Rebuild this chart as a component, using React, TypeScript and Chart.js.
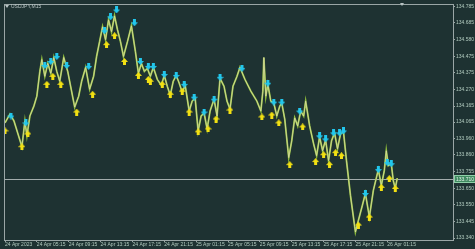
import React, { useEffect, useRef } from "react";
import { Chart, registerables } from "chart.js";

Chart.register(...registerables);

const symbolTitle = "USDJPY,M15";

// bar index (15-minute bars from 24 Apr 01:15) of each vertex of the close line
const closeBars = [
  0, 2.5, 4.5, 8.5, 10, 11, 12.5, 14.5, 16, 17.5, 18.5, 20, 21.5, 23, 24.5, 26, 27.5, 29.5, 31.5, 35,
  37, 38.5, 40.5, 42.5, 44.5, 46, 47.5, 49, 50.5, 52, 53.5, 55, 56.5, 58, 59.5, 61.5, 63.5, 65.5, 67, 68.5,
  70, 71.5, 73, 74.5, 76.5, 78.5, 80, 81.5, 83, 84.5, 86, 87.5, 89, 90.5, 92.5, 94, 95.5, 97, 98.5, 100,
  101.5, 103, 105, 106.5, 108, 110, 111.5, 113, 114.5, 116.5, 118, 120.5, 123.5, 126.5, 128.5, 129.5, 130, 131, 132, 133.5,
  135, 136.5, 138, 139, 140.5, 142.5, 144, 145.5, 147, 148.5, 150, 151, 153, 155, 156.5, 158, 159.5, 161, 162.5, 164,
  165.5, 167, 168.5, 170, 171.5, 173.5, 176, 177.5, 179.5, 181, 183, 185, 187.5, 189, 190.5, 191.5, 192.5, 194, 195, 196, 197,
];
const closePrices = [
  134.060, 134.115, 134.072, 133.911, 134.072, 133.979, 134.103, 134.165, 134.227, 134.382, 134.456, 134.351, 134.432, 134.370, 134.469, 134.382, 134.320, 134.469, 134.382, 134.159,
  134.227, 134.320, 134.407, 134.270, 134.351, 134.475, 134.568, 134.661, 134.580, 134.704, 134.630, 134.729, 134.642, 134.568, 134.475, 134.568, 134.667, 134.506, 134.370, 134.432,
  134.382, 134.401, 134.351, 134.407, 134.332, 134.295, 134.357, 134.289, 134.233, 134.320, 134.357, 134.308, 134.252, 134.295, 134.134, 134.196, 134.215, 134.010, 134.103, 134.122,
  134.022, 134.134, 134.208, 134.103, 134.339, 134.289, 134.196, 134.146, 134.289, 134.351, 134.407, 134.332, 134.258, 134.196, 134.134, 134.258, 134.469, 134.227, 134.301, 134.196,
  134.184, 134.103, 134.165, 134.184, 134.084, 133.843, 133.948, 134.091, 134.041, 134.134, 134.103, 134.196, 134.041, 133.929, 133.855, 133.973, 133.886, 133.954, 133.824, 133.948,
  133.998, 133.898, 133.991, 134.004, 133.824, 133.607, 133.378, 133.452, 133.545, 133.619, 133.471, 133.638, 133.768, 133.669, 133.762, 133.886, 133.793, 133.805, 133.700, 133.650, 133.715,
];

// cyan "down" arrow signals (above highs)
const sellBars = [3, 10.5, 20, 23, 26, 31, 42, 50, 53, 56, 65, 68, 72, 74.5, 80, 86, 90, 95, 100, 105, 108, 119, 132, 135, 139, 148, 158, 161, 165, 168, 170, 181, 187.5, 192, 194];
const sellPrices = [
  134.103, 134.060, 134.419, 134.444, 134.475, 134.419, 134.413, 134.636, 134.723, 134.766, 134.686, 134.444, 134.413, 134.413, 134.363, 134.357, 134.301, 134.221, 134.128, 134.208,
  134.345, 134.401, 134.308, 134.190, 134.190, 134.134, 133.979, 133.960, 133.998, 133.998, 134.010, 133.619, 133.768, 133.812, 133.805,
];

// yellow "up" arrow signals (below lows)
const buyBars = [0, 8.5, 11.5, 21, 24, 28, 36, 44, 51, 55, 60, 67, 72, 73, 79, 83, 89, 92.5, 97, 102, 106, 113, 129, 134, 137.5, 143, 149.5, 156, 160, 163, 166, 169, 177.5, 183, 189, 193, 196];
const buyPrices = [
  134.010, 133.911, 133.991, 134.301, 134.351, 134.301, 134.128, 134.239, 134.549, 134.605, 134.444, 134.357, 134.332, 134.320, 134.301, 134.239, 134.258, 134.128, 134.004, 134.022,
  134.084, 134.140, 134.097, 134.109, 134.060, 133.799, 134.035, 133.818, 133.861, 133.799, 133.874, 133.855, 133.421, 133.471, 133.657, 133.712, 133.650,
];

const currentPrice = 133.710;

const priceTicks = [134.785, 134.685, 134.58, 134.475, 134.375, 134.27, 134.165, 134.065, 133.96, 133.86, 133.755, 133.65, 133.55, 133.445, 133.34];
const timeTickBars = [0, 16, 32, 48, 64, 80, 96, 112, 128, 144, 160, 176, 192];
const timeTickLabels = [
  "24 Apr 2023", "24 Apr 05:15", "24 Apr 09:15", "24 Apr 13:15", "24 Apr 17:15", "24 Apr 21:15", "25 Apr 01:15",
  "25 Apr 05:15", "25 Apr 09:15", "25 Apr 13:15", "25 Apr 17:15", "25 Apr 21:15", "26 Apr 01:15",
];

const BG = "#1e3232";
const FRAME = "#9aa6a6";
const TEXT = "#b2cbbf";
const FONT = "Liberation Sans";

function makeArrow(color: string, down: boolean): HTMLCanvasElement {
  const c = document.createElement("canvas");
  c.width = 7;
  c.height = 7;
  const g = c.getContext("2d")!;
  g.fillStyle = color;
  g.beginPath();
  if (down) {
    g.rect(2, 0, 3, 3.5);
    g.moveTo(0, 3);
    g.lineTo(7, 3);
    g.lineTo(3.5, 7);
  } else {
    g.moveTo(3.5, 0);
    g.lineTo(7, 4);
    g.lineTo(0, 4);
    g.closePath();
    g.rect(2, 3.5, 3, 3.5);
  }
  g.fill();
  return c;
}

export default function App() {
  const ref = useRef<HTMLCanvasElement | null>(null);

  useEffect(() => {
    document.body.style.margin = "0";
    document.body.style.background = BG;
    const canvas = ref.current!;
    const downArrow = makeArrow("#22c6ec", true);
    const upArrow = makeArrow("#f2e012", false);

    const decor = {
      id: "mt4decor",
      beforeDraw(chart: any) {
        const { ctx, width, height } = chart;
        ctx.save();
        ctx.fillStyle = BG;
        ctx.fillRect(0, 0, width, height);
        ctx.restore();
      },
      beforeDatasetsDraw(chart: any) {
        const { ctx, chartArea } = chart;
        const y = Math.round(chart.scales.y.getPixelForValue(currentPrice)) + 0.5;
        ctx.save();
        ctx.strokeStyle = "#a3acac";
        ctx.lineWidth = 1;
        ctx.beginPath();
        ctx.moveTo(chartArea.left, y);
        ctx.lineTo(chartArea.right, y);
        ctx.stroke();
        ctx.restore();
      },
      afterDraw(chart: any) {
        const { ctx, chartArea } = chart;
        ctx.save();
        ctx.strokeStyle = FRAME;
        ctx.lineWidth = 1;
        ctx.strokeRect(chartArea.left - 0.5, chartArea.top - 0.5, chartArea.right - chartArea.left + 1, chartArea.bottom - chartArea.top + 1);
        // title
        ctx.fillStyle = "#b8c4c4";
        ctx.beginPath();
        ctx.moveTo(5, 5);
        ctx.lineTo(9, 5);
        ctx.lineTo(7, 8);
        ctx.closePath();
        ctx.fill();
        ctx.font = `5px "${FONT}"`;
        ctx.textBaseline = "middle";
        ctx.textAlign = "left";
        ctx.fillText(symbolTitle, 11, 6.5);
        // shift marker
        ctx.beginPath();
        ctx.moveTo(400, 3);
        ctx.lineTo(404, 3);
        ctx.lineTo(402, 6);
        ctx.closePath();
        ctx.fill();
        // current price label
        const y = Math.round(chart.scales.y.getPixelForValue(currentPrice));
        ctx.fillStyle = "#3f8a60";
        ctx.fillRect(chartArea.right + 1, y - 4, 22, 8);
        ctx.strokeStyle = "#8fd0a8";
        ctx.strokeRect(chartArea.right + 1.5, y - 3.5, 21, 7);
        ctx.fillStyle = "#e4f4ea";
        ctx.fillText(currentPrice.toFixed(3), chartArea.right + 3, y + 0.5);
        ctx.restore();
      },
    };

    const chart = new Chart(canvas, {
      type: "line",
      data: {
        datasets: [
          {
            type: "scatter" as any,
            data: sellBars.map((b, i) => ({ x: b, y: sellPrices[i] })),
            pointStyle: downArrow as any,
            pointRadius: 3,
            order: 0,
          },
          {
            type: "scatter" as any,
            data: buyBars.map((b, i) => ({ x: b, y: buyPrices[i] })),
            pointStyle: upArrow as any,
            pointRadius: 3,
            order: 0,
          },
          {
            data: closeBars.map((b, i) => ({ x: b, y: closePrices[i] })),
            borderColor: "#dcd9a4",
            borderWidth: 0.8,
            pointRadius: 0,
            tension: 0,
            order: 1,
          },
          {
            data: closeBars.map((b, i) => ({ x: b, y: closePrices[i] })),
            borderColor: "#8fbe3c",
            borderWidth: 1.8,
            pointRadius: 0,
            tension: 0,
            order: 2,
          },
        ],
      },
      options: {
        animation: false,
        responsive: true,
        maintainAspectRatio: false,
        layout: { padding: { left: 3, top: 3, right: 0, bottom: 0 } },
        plugins: { legend: { display: false }, tooltip: { enabled: false } },
        events: [],
        scales: {
          x: {
            type: "linear",
            position: "bottom",
            min: 0,
            max: 225,
            afterBuildTicks: (s: any) => {
              s.ticks = timeTickBars.map((v) => ({ value: v }));
            },
            afterFit: (s: any) => {
              s.height = 9;
            },
            grid: { drawOnChartArea: false, drawTicks: true, tickLength: 2, color: FRAME },
            border: { display: true, color: FRAME },
            ticks: {
              autoSkip: false,
              maxRotation: 0,
              minRotation: 0,
              align: "start",
              padding: 0,
              color: TEXT,
              font: { family: FONT, size: 5 },
              callback: (_v: any, i: number) => timeTickLabels[i],
            },
          },
          y: {
            type: "linear",
            position: "right",
            min: 133.328,
            max: 134.797,
            afterBuildTicks: (s: any) => {
              s.ticks = priceTicks.map((v) => ({ value: v }));
            },
            afterFit: (s: any) => {
              s.width = 22;
            },
            grid: { drawOnChartArea: false, drawTicks: true, tickLength: 2, color: FRAME },
            border: { display: true, color: FRAME },
            ticks: {
              autoSkip: false,
              padding: 1,
              color: TEXT,
              font: { family: FONT, size: 5 },
              callback: (v: any) => Number(v).toFixed(3),
            },
          },
        },
      },
      plugins: [decor],
    });

    return () => chart.destroy();
  }, []);

  return (
    <div style={{ position: "relative", width: 475, height: 249, background: BG }}>
      <canvas ref={ref} />
    </div>
  );
}
